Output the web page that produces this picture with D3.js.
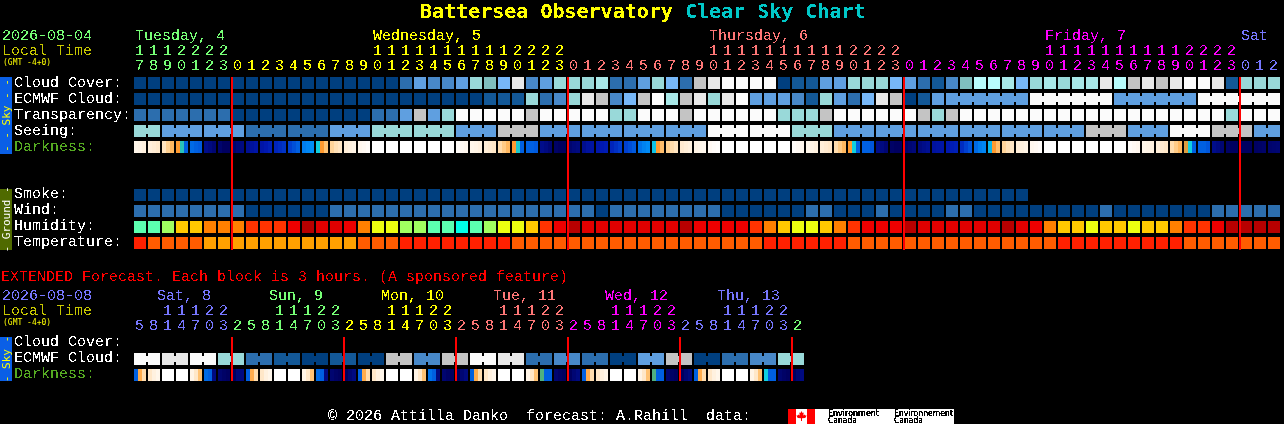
<!DOCTYPE html>
<html><head><meta charset="utf-8">
<script src="https://cdn.jsdelivr.net/npm/d3@7"></script>
<style>
html,body{margin:0;padding:0;background:#000;overflow:hidden}
svg{display:block}
text{font-family:"Liberation Mono",monospace;font-size:15px;white-space:pre}
</style></head><body><script>
// ---------- sky palette, level 0 (clear/good) ... 12 (overcast/poor)
const skyPalette=["#003f7f","#135897","#2c6eae","#4888c8","#5f9fe0","#77b7f7","#7fbfbf","#99d9d9","#a8e8e8","#b8fcfc","#c4c4c4","#e8e8e8","#fbfbfb"];
const humidityPalette=["#00ffe8","#5cffb0","#a0ff60","#ecff10","#ffc800","#ff8000","#ff3300","#ee0000","#e00000","#b80000"];
const temperaturePalette=["#ffa000","#ff5c00","#ff2000"];
const darknessStops=[-4,-3.5,-3,-2.5,-2,-1.5,-1,-0.5,0,0.5,1,2,3,4,5,6];
const darknessColors=["#ffffff","#fff8f0","#fff4e6","#ffecd4","#ffe4c0","#ffd090","#ffb860","#ff9a30","#50b080","#10d0e0","#0090f8","#0060e0","#0040d0","#0018b0","#000a80","#000060"];

// ---------- hourly forecast
const hourTens=[1,1,1,2,2,2,2,"","","","","","","","","","",1,1,1,1,1,1,1,1,1,1,2,2,2,2,"","","","","","","","","","",1,1,1,1,1,1,1,1,1,1,2,2,2,2,"","","","","","","","","","",1,1,1,1,1,1,1,1,1,1,2,2,2,2,"","",""];
const hourOnes=[7,8,9,0,1,2,3,0,1,2,3,4,5,6,7,8,9,0,1,2,3,4,5,6,7,8,9,0,1,2,3,0,1,2,3,4,5,6,7,8,9,0,1,2,3,4,5,6,7,8,9,0,1,2,3,0,1,2,3,4,5,6,7,8,9,0,1,2,3,4,5,6,7,8,9,0,1,2,3,0,1,2];
const dayNames=["Tuesday, 4","Wednesday, 5","Thursday, 6","Friday, 7","Sat"];
const dayLabelCols=[0,17,41,65,79];
const dayStartCols=[0,7,31,55,79];
const dayColors=["#77ff77","#ffff00","#ff7777","#ff00ff","#7777ff"];
const dayBoundaries=[7,31,55,79];

const cloudCover=[0,0,0,0,0,0,0,0,0,0, 0,0,0,0,0,0,0,0,0,2, 4,3,3,4,7,6,5,11,3,4, 7,7,7,8,2,2,4,7,5,2, 10,11,12,12,12,12,0,1,1,4, 4,7,7,7,5,4,2,1,3,6, 9,9,8,5,7,8,7,8,8,11, 9,10,11,10,11,12,12,11,1,7, 7,7];
const ecmwfCloud=[0,0,0,0,0,0,0,0,0,0, 0,0,0,0,0,0,0,0,0,0, 0,0,0,0,0,1,1,1,7,2, 3,7,11,10,3,5,10,12,8,10, 11,7,11,12,4,4,4,3,1,7, 4,2,5,11,10,0,1,4,4,4, 4,4,4,4,12,12,12,12,12,12, 4,4,4,4,4,4,12,12,12,12, 12,12];
const ecmwfSpanLengths=[1,1,1,1,1,1,1,1,1,1,1,1,1,1,1,1,1,1,1,1,1,1,1,1,1,1,1,1,1,1,1,1,1,1,1,1,1,1,1,1,1,1,1,1,1,1,1,1,1,1,1,1,1,1,1,1,1,1,6,6,6,6];
const transparency=[2,2,2,2,2,2,2,0,0,0, 0,0,0,0,0,0,0,2,2,4, 10,4,7,12,12,12,12,12,10,12, 12,12,12,12,7,7,12,12,12,10, 12,12,12,12,12,12,7,7,7,10, 12,12,12,12,12,12,10,7,10,12, 12,12,12,12,12,12,12,12,12,12, 12,12,12,12,12,12,12,12,7,12, 12,12];
const seeing=[7,4,4,2,2,4,7,7,4,10,4,4,4,4,12,12,7,4,4,4,4,4,4,10,4,12,10,4];
const seeingSpanLengths=[2,3,3,3,3,3,3,3,3,3,3,3,3,3,3,3,3,3,3,3,3,3,3,3,3,3,3,2];
const smoke=[0,0,0,0,0,0,0,0,0,0, 0,0,0,0,0,0,0,0,0,0, 0,0,0,0,0,0,0,0,0,0, 0,0,0,0,0,0,0,0,0,0, 0,0,0,0,0,0,0,0,0,0, 0,0,0,0,0,0,0,0,0,0, 0,0,0,0];
const wind=[2,2,2,2,2,2,2,2,0,0, 0,0,0,0,2,2,2,2,2,2, 2,2,2,2,2,2,2,2,2,2, 2,2,2,0,2,2,2,2,2,2, 2,2,0,0,0,0,0,0,2,2, 0,0,0,2,0,0,0,0,2,2, 0,0,0,0,0,0,0,0,0,2, 0,0,0,0,0,0,0,2,2,2, 2,2];
const humidity=[1,1,2,4,4,5,5,5,6,6, 6,7,9,8,8,7,5,3,3,2, 2,1,1,0,1,2,3,3,4,6, 7,9,8,8,8,8,8,8,8,9, 7,7,7,7,6,5,4,3,3,4, 5,6,7,7,7,9,8,8,8,8, 8,8,9,8,7,5,4,4,3,4, 4,3,4,4,5,6,6,7,9,9, 9,9];
const temperature=[2,1,1,1,1,0,0,0,0,0, 0,0,0,0,0,0,1,1,1,2, 2,2,2,2,2,2,2,1,1,1, 1,1,1,1,1,1,1,1,1,1, 1,1,1,1,1,2,2,2,2,2, 2,1,1,1,1,1,1,1,1,1, 1,1,1,1,1,1,2,2,2,2, 2,2,2,2,2,1,1,1,1,1, 1,1];
const darkness=[
-3.2,-3,-2.8, -2.7,-2.5,-2.3, -2,-1.5,-1, -0.5,0.3,2, 1.8,2,2.2, 4.8,5,5.4, 5.6,6,6, 5.6,5.2,5, 4.6,4.4,4.2, 4.2,4,3.8,
3.7,3.5,3.3, 3,2.5,2, 1.4,1.2,1, 0.5,-0.5,-1.2, -1.6,-1.9,-2.1, -2.6,-2.8,-3, -3.4,-3.6,-3.8, -4,-4,-4, -4,-4,-4, -4,-4,-4,
-4,-4,-4, -4,-4,-4, -4,-4,-4, -3.8,-3.6,-3.4, -3.2,-3,-2.8, -2.6,-2.4,-2.2, -1.8,-1.4,-1, -0.5,0.4,2, 2,2,2.2, 4.8,5,5.4,
5.8,6,6, 5.5,5.2,5, 4.7,4.4,4.3, 4.1,4,3.9, 3.7,3.4,3.1, 3,2.6,2.2, 1.6,1.3,1.1, 0.6,-0.5,-1.1, -1.5,-1.8,-2, -2.4,-2.6,-2.8,
-3,-3.2,-3.4, -3.6,-3.8,-3.9, -4,-4,-4, -4,-4,-4, -4,-4,-4, -4,-4,-4, -4,-4,-4, -3.8,-3.6,-3.4, -3.2,-3,-2.8, -2.6,-2.4,-2.2,
-1.8,-1.4,-1, -0.5,0.5,2, 2,2,2.3, 4.8,5,5.4, 5.8,6,6, 5.7,5.4,5.2, 5,4.8,4.6, 4.4,4.3,4.2, 4,3.9,3.8, 3.5,3,2.4,
1.8,1.4,1.2, 0.7,-0.5,-1.1, -1.6,-1.9,-2.1, -2.6,-2.8,-3, -3.4,-3.6,-3.8, -4,-4,-4, -4,-4,-4, -4,-4,-4, -4,-4,-4, -4,-4,-4,
-4,-4,-4, -3.8,-3.6,-3.4, -3.2,-3,-2.8, -2.6,-2.4,-2.2, -1.8,-1.4,-1, -0.4,0.5,2, 2,2,2.3, 4.8,5,5.4, 5.8,6,6, 6,6,6,
5.9,5.8,5.7, 5.6,5.5,5.4];

// ---------- extended forecast (3-hour blocks)
const extHourTens=["","",1,1,1,2,2,"","","",1,1,1,2,2,"","","",1,1,1,2,2,"","","",1,1,1,2,2,"","","",1,1,1,2,2,"","","",1,1,1,2,2,""];
const extHourOnes=[5,8,1,4,7,0,3,2,5,8,1,4,7,0,3,2,5,8,1,4,7,0,3,2,5,8,1,4,7,0,3,2,5,8,1,4,7,0,3,2,5,8,1,4,7,0,3,2];
const extDayNames=["Sat, 8","Sun, 9","Mon, 10","Tue, 11","Wed, 12","Thu, 13"];
const extDayLabelX=[157,269,381,493,605,717];
const extDayStartCols=[0,7,15,23,31,39,47];
const extDayColors=["#7777ff","#77ff77","#ffff00","#ff7777","#ff00ff","#7777ff","#77ff77"];
const extBoundaries=[7,15,23,31,39,47];
const extEcmwf=[12,11,12,7,2,1,0,1,0,10,3,10,12,11,2,3,2,0,4,10,0,2,3,7];
const extSpanLengths=[2,2,2,2,2,2,2,2,2,2,2,2,2,2,2,2,2,2,2,2,2,2,2,2];
const extDarkness=[
2,-0.8,-1.8, -2.2,-2.8,-3.2, -4,-4,-4, -4,-4,-4, -3,-2.2,-1.2, 1.8,2,5, 5.5,5.8,6, 6,5.2,5,
2,-0.8,-1.8, -2.2,-2.8,-3.2, -4,-4,-4, -4,-4,-4, -3,-2.2,-1.2, 1.8,2,5, 5.5,5.8,6, 6,5.4,5,
2,-0.8,-1.8, -2.2,-2.8,-3.2, -4,-4,-4, -4,-4,-4, -3,-2.2,-1.2, 1.6,2,5, 5.5,5.8,6, 6,5.4,5,
2,-0.8,-1.8, -2.2,-2.8,-3.2, -4,-4,-4, -4,-4,-4, -3,-2.2,-1.2, 0,2,2, 5.5,5.8,6, 6,5.4,5,
2,-0.8,-1.8, -2.2,-2.8,-3.2, -4,-4,-4, -4,-4,-4, -3,-2.2,-1.2, 0,2,2, 5.5,5.8,6, 6,5.4,5,
2,-0.8,-1.8, -2.2,-2.8,-3.2, -4,-4,-4, -4,-4,-4, -3,-2.2,-1.2, 0.5,2,2, 5.5,5.8,6, 6,5.4,5];

// ---------- scales
const W=1284,H=424,step=14,cell=12,rowStep=16;
const xMain=d3.scaleBand().domain(d3.range(hourOnes.length)).range([134,134+step*hourOnes.length-(step-cell)]).paddingInner((step-cell)/step).paddingOuter(0);
const xExt=d3.scaleBand().domain(d3.range(extHourOnes.length)).range([134,134+step*extHourOnes.length-(step-cell)]).paddingInner((step-cell)/step).paddingOuter(0);
const rowScale=(names,top)=>d3.scaleBand().domain(names).range([top,top+rowStep*names.length-(rowStep-cell)]).paddingInner((rowStep-cell)/rowStep).paddingOuter(0);
const skyRows=["Cloud Cover:","ECMWF Cloud:","Transparency:","Seeing:","Darkness:"];
const groundRows=["Smoke:","Wind:","Humidity:","Temperature:"];
const extRows=["Cloud Cover:","ECMWF Cloud:","Darkness:"];
const ySky=rowScale(skyRows,77),yGround=rowScale(groundRows,189),yExt=rowScale(extRows,337);
const skyColor=d3.scaleOrdinal(d3.range(skyPalette.length),skyPalette);
const humidityColor=d3.scaleOrdinal(d3.range(humidityPalette.length),humidityPalette);
const temperatureColor=d3.scaleOrdinal(d3.range(temperaturePalette.length),temperaturePalette);
const darknessColor=d3.scaleLinear().domain(darknessStops).range(darknessColors).clamp(true);
const dayAt=(starts,i)=>d3.bisectRight(starts,i)-1;

const svg=d3.select("body").append("svg").attr("width",W).attr("height",H).attr("viewBox",`0 0 ${W} ${H}`);
const defs=svg.append("defs");
const mkFilter=(id,table)=>defs.append("filter").attr("id",id).attr("filterUnits","userSpaceOnUse").attr("x",0).attr("y",0).attr("width",W).attr("height",H)
  .attr("color-interpolation-filters","sRGB")
  .append("feComponentTransfer").append("feFuncA").attr("type","discrete").attr("tableValues",table);
mkFilter("crisp","0 0 1 1");
mkFilter("crispLow","0 1 1 1");
svg.append("rect").attr("width",W).attr("height",H).attr("fill","#000");
const cells=svg.append("g").attr("shape-rendering","crispEdges");
const red=svg.append("g").attr("shape-rendering","crispEdges");
const bars=svg.append("g");
const logo=svg.append("g");
const text=svg.append("g").attr("filter","url(#crisp)");
const soft=svg.append("g");
const logoText=svg.append("g").attr("filter","url(#crispLow)");

function drawRow(x,y,values,color,spans){
  const g=cells.append("g");
  g.selectAll("rect.c").data(values).join("rect").attr("class","c")
    .attr("x",(d,i)=>x(i)).attr("y",y).attr("width",x.bandwidth()).attr("height",cell).attr("fill",d=>color(d));
  if(spans){
    let col=0;
    spans.forEach((len)=>{
      for(let k=1;k<len;k++){
        const i=col+k;
        g.append("rect").attr("x",x(i)-(step-cell)).attr("y",y+3).attr("width",step-cell).attr("height",cell-6).attr("fill",color(values[i]));
      }
      col+=len;
    });
  }
}
function expand(values,lens){return values.flatMap((v,i)=>d3.range(lens[i]).map(()=>v));}
function drawDark(x,y,samples){
  const per=3,n=samples.length/per;
  const sub=d3.scaleBand().domain(d3.range(per)).range([0,x.bandwidth()]);
  const g=cells.append("g");
  d3.range(n).forEach(i=>{
    d3.range(per).forEach(j=>{
      g.append("rect").attr("x",x(i)+sub(j)).attr("y",y).attr("width",sub.bandwidth()).attr("height",cell)
        .attr("fill",darknessColor(samples[i*per+j]));
    });
  });
}
drawRow(xMain,ySky("Cloud Cover:"),cloudCover,skyColor);
drawRow(xMain,ySky("ECMWF Cloud:"),ecmwfCloud,skyColor,ecmwfSpanLengths);
drawRow(xMain,ySky("Transparency:"),transparency,skyColor);
drawRow(xMain,ySky("Seeing:"),expand(seeing,seeingSpanLengths),skyColor,seeingSpanLengths);
drawDark(xMain,ySky("Darkness:"),darkness);
drawRow(xMain,yGround("Smoke:"),smoke,skyColor);
drawRow(xMain,yGround("Wind:"),wind,skyColor);
drawRow(xMain,yGround("Humidity:"),humidity,humidityColor);
drawRow(xMain,yGround("Temperature:"),temperature,temperatureColor);
drawRow(xExt,yExt("ECMWF Cloud:"),expand(extEcmwf,extSpanLengths),skyColor,extSpanLengths);
drawDark(xExt,yExt("Darkness:"),extDarkness);

// red midnight lines
red.selectAll("rect.m").data(dayBoundaries).join("rect").attr("class","m")
  .attr("x",d=>xMain(d)-1).attr("y",ySky.range()[0]).attr("width",2).attr("height",yGround.range()[1]-ySky.range()[0]+1).attr("fill","#ff0000");
red.selectAll("rect.e").data(extBoundaries).join("rect").attr("class","e")
  .attr("x",d=>xExt(d)-1).attr("y",yExt.range()[0]).attr("width",2).attr("height",yExt.range()[1]-yExt.range()[0]).attr("fill","#ff0000");

// side bars
function sideBar(y0,y1,fill,color,str){
  bars.append("rect").attr("x",0).attr("y",y0).attr("width",12).attr("height",y1-y0).attr("fill",fill).attr("shape-rendering","crispEdges");
  soft.append("text").attr("transform",`translate(9.5,${(y0+y1)/2}) rotate(-90)`).attr("text-anchor","middle")
    .style("font-family","'DejaVu Sans Mono',monospace").style("font-size","11px").attr("fill",color).text(str);
}
sideBar(77,154,"#0a5fe6","#ffff00","- - Sky - -");
sideBar(189,250,"#4f6a00","#ffffff","- Ground -");
sideBar(337,381,"#0a5fe6","#ffff00","- Sky -");

function label(str,x,y,fill){
  return text.append("text").attr("x",x).attr("y",y).attr("fill",fill).text(str);
}
// title
const title=text.append("text").attr("x",420).attr("y",18).style("font-family","'DejaVu Sans Mono',monospace").style("font-size","20px").style("font-weight","bold");
title.append("tspan").attr("fill","#ffff00").text("Battersea Observatory ");
title.append("tspan").attr("fill","#00c8c8").text("Clear Sky Chart");

function tiny(str,x,y){
  soft.append("text").attr("x",x).attr("y",y).attr("fill","#ffff00")
    .style("font-family","'DejaVu Sans Mono',monospace").style("font-size","8px").text(str);
}
// header
label("2026-08-04",2,40,"#77ff77");
label("Local Time",2,55,"#c8c800");
tiny("(GMT -4+0)",3,64.5);
dayNames.forEach((d,i)=>label(d,xMain(dayLabelCols[i])+1,40,dayColors[i]));

function hourAxes(x,tens,ones,starts,colors,yTens,yOnes){
  const cols=x.domain();
  const tensAxis=d3.axisTop(x).offset(0).tickValues(cols.filter(i=>tens[i]!=="")).tickSize(0).tickPadding(0).tickFormat(i=>String(tens[i]));
  const onesAxis=d3.axisTop(x).offset(0).tickSize(0).tickPadding(0).tickFormat(i=>String(ones[i]));
  [[tensAxis,yTens],[onesAxis,yOnes]].forEach(([a,y])=>{
    const g=text.append("g").attr("transform",`translate(0,${y})`).call(a);
    g.attr("font-family",null).attr("font-size",null).attr("text-anchor","start");
    g.select(".domain").remove();
    g.selectAll(".tick text").attr("x",-5).attr("y",0).attr("dy",0).attr("fill",i=>colors[dayAt(starts,i)]);
  });
}
hourAxes(xMain,hourTens,hourOnes,dayStartCols,dayColors,55,70);

// row labels
const rowLabel=(names,y,off)=>names.forEach(n=>label(n,14,y(n)+off,n==="Darkness:"?"#55aa22":"#ffffff"));
rowLabel(skyRows,ySky,10);
rowLabel(groundRows,yGround,9);
rowLabel(extRows,yExt,9);

// extended
label("EXTENDED Forecast. Each block is 3 hours. (A sponsored feature)",1,281,"#ff0000");
label("2026-08-08",2,300,"#7777ff");
label("Local Time",2,315,"#c8c800");
tiny("(GMT -4+0)",3,324.5);
extDayNames.forEach((d,i)=>label(d,extDayLabelX[i],300,extDayColors[i]));
hourAxes(xExt,extHourTens,extHourOnes,extDayStartCols,extDayColors,315,330);

// footer
label("\u00a9 2026 Attilla Danko  forecast: A.Rahill  data:",328,420,"#ffffff");
logo.append("rect").attr("x",788).attr("y",409).attr("width",166).attr("height",15).attr("fill","#fff");
logo.append("rect").attr("x",788).attr("y",409).attr("width",27).attr("height",15).attr("fill","#ff0000");
logo.append("rect").attr("x",796).attr("y",409).attr("width",11).attr("height",15).attr("fill","#fff");
logo.append("path").attr("d","M801.5 411l1 2 1.2-.6-.4 3 1.5-1 .4 1 1.3-.2-.6 2-1 .8-2.9.2v2.8h-1v-2.8l-2.9-.2-1-.8-.6-2 1.3.2.4-1 1.5 1-.4-3 1.2.6z").attr("fill","#ff0000");
[["Environment",828,415.5,51],["Canada",828,423,29],["Environnement",894,415.5,59],["Canada",894,423,29]].forEach(([s,x,y,w])=>{
  logoText.append("text").attr("x",x).attr("y",y).attr("fill","#000").attr("textLength",w).attr("lengthAdjust","spacingAndGlyphs")
    .style("font-family","'DejaVu Sans',sans-serif").style("font-size","9px").text(s);
});
</script></body></html>
